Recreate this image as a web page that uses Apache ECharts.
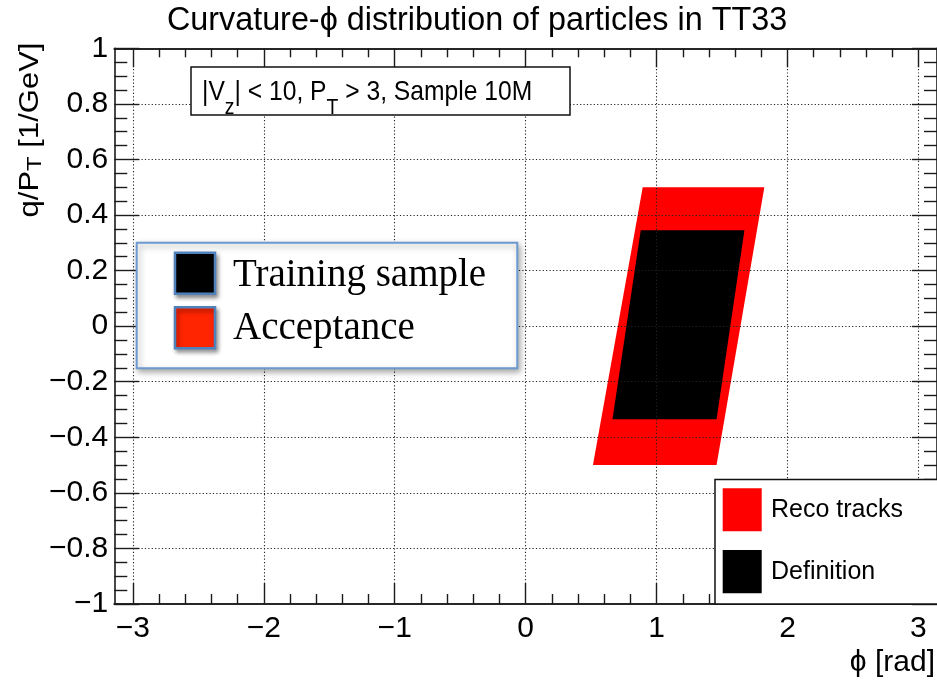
<!DOCTYPE html>
<html>
<head>
<meta charset="utf-8">
<script src="https://cdn.jsdelivr.net/npm/echarts@6/dist/echarts.min.js"></script>
<style>
  html, body { margin: 0; padding: 0; background: #ffffff; }
  #chart { width: 937px; height: 682px; }
</style>
</head>
<body>
<div id="chart"></div>
<script>
// ---- axis definitions ----
const phiRange = [-Math.PI, Math.PI];
const phiTickValues = [-3, -2, -1, 0, 1, 2, 3];
const qOverPtRange = [-1, 1];
const qOverPtStep = 0.2;
const qOverPtGridValues = [-0.8, -0.6, -0.4, -0.2, 0, 0.2, 0.4, 0.6, 0.8];

// ---- regions in the (phi, q/pT) plane, corners clockwise from top-left ----
// Reco tracks (acceptance)
const recoPhi = [0.894, 1.823, 1.458, 0.514];
const recoQoverPt = [0.50, 0.50, -0.50, -0.50];
// Definition (training sample)
const definitionPhi = [0.879, 1.671, 1.458, 0.663];
const definitionQoverPt = [0.345, 0.345, -0.335, -0.335];

// ---- helpers ----
const SANS = "'Liberation Sans', Arial, Helvetica, sans-serif";
const SERIF = "'Liberation Serif', 'Times New Roman', serif";
const INK = '#1a1a1a';

// minor phi ticks every 0.2 between the integer ticks
const phiMinorTicks = [];
for (let k = -16; k <= 16; k++) {
  const v = k / 5;
  if (k % 5 !== 0 && Math.abs(v) < Math.PI) phiMinorTicks.push(v);
}

function signedLabel(v) {
  const s = String(+Math.abs(v).toFixed(2));
  return v < -1e-9 ? '\u2212' + s : s;
}

function phiAxis(position, values, tickLength, withLabels) {
  return {
    type: 'value',
    position: position,
    min: phiRange[0],
    max: phiRange[1],
    axisLine: { show: true, onZero: false, lineStyle: { color: INK, width: 1.6 } },
    axisTick: {
      show: true, inside: true, length: tickLength,
      customValues: values,
      lineStyle: { color: INK, width: 1.4 }
    },
    axisLabel: withLabels ? {
      show: true, customValues: values, formatter: signedLabel,
      fontFamily: SANS, fontSize: 30, color: '#000', margin: 10
    } : { show: false },
    splitLine: { show: false },
    minorTick: { show: false }
  };
}

function qAxis(position, withLabels) {
  return {
    type: 'value',
    position: position,
    min: qOverPtRange[0],
    max: qOverPtRange[1],
    interval: qOverPtStep,
    axisLine: { show: true, onZero: false, lineStyle: { color: INK, width: 1.6 } },
    axisTick: { show: true, inside: true, length: 25, lineStyle: { color: INK, width: 1.4 } },
    minorTick: { show: true, splitNumber: 4, length: 13, lineStyle: { color: INK, width: 1.4 } },
    axisLabel: withLabels ? {
      show: true, formatter: signedLabel,
      fontFamily: SANS, fontSize: 30, color: '#000', margin: 6
    } : { show: false },
    splitLine: { show: false }
  };
}

function regionSeries(name, phi, q, color, z) {
  return {
    type: 'custom',
    name: name,
    xAxisIndex: 0,
    yAxisIndex: 0,
    z: z,
    silent: true,
    animation: false,
    data: phi.map((p, i) => [p, q[i]]),
    renderItem: function (params, api) {
      if (params.dataIndex !== 0) return null;
      const pts = phi.map((p, i) => api.coord([p, q[i]]));
      return { type: 'polygon', shape: { points: pts }, style: { fill: color } };
    }
  };
}

const chart = echarts.init(document.getElementById('chart'), null, { renderer: 'canvas' });

const option = {
  animation: false,
  backgroundColor: '#ffffff',
  grid: { left: 114.3, top: 48.3, width: 825.2, height: 555.7, show: false },
  xAxis: [
    phiAxis('bottom', phiTickValues, 21, true),
    phiAxis('bottom', phiMinorTicks, 10, false),
    phiAxis('top', phiTickValues, 19, false),
    phiAxis('top', phiMinorTicks, 9, false)
  ],
  yAxis: [
    qAxis('left', true),
    qAxis('right', false)
  ],
  series: [
    regionSeries('Reco tracks', recoPhi, recoQoverPt, '#ff0000', 2),
    regionSeries('Definition', definitionPhi, definitionQoverPt, '#000000', 3),
    {
      // dotted grid drawn over the filled regions
      type: 'line',
      name: 'grid',
      data: [],
      z: 5,
      silent: true,
      markLine: {
        silent: true,
        animation: false,
        symbol: ['none', 'none'],
        label: { show: false },
        lineStyle: { type: [1.2, 2.2], color: '#222', width: 1.1 },
        emphasis: { disabled: true },
        data: phiTickValues.map(v => ({ xAxis: v }))
          .concat(qOverPtGridValues.map(v => ({ yAxis: v })))
      }
    }
  ],
  graphic: [
    // title
    {
      type: 'text', x: 477, y: 21, z: 100, scaleX: 0.98,
      style: {
        text: 'Curvature-\u03d5 distribution of particles in TT33',
        font: '33px ' + SANS, fill: '#000', align: 'center', verticalAlign: 'middle'
      }
    },
    // y-axis title
    {
      type: 'text', x: 30, y: 130, rotation: Math.PI / 2, scaleY: 0.88, z: 100,
      style: {
        text: 'q/P{sub|T}{m| [1/GeV]}',
        font: '31px ' + SANS, fill: '#000', align: 'center', verticalAlign: 'middle',
        lineHeight: 36,
        rich: {
          m: { fontFamily: SANS, fontSize: 31, lineHeight: 36 },
          sub: { fontFamily: SANS, fontSize: 24, lineHeight: 24, padding: [12, 0, 0, 0] }
        }
      }
    },
    // x-axis title
    {
      type: 'text', x: 935, y: 663, z: 100,
      style: {
        text: '\u03d5 [rad]',
        font: '30px ' + SANS, fill: '#000', align: 'right', verticalAlign: 'middle'
      }
    },
    // selection box
    {
      type: 'rect', z: 100,
      shape: { x: 191, y: 67, width: 379, height: 48 },
      style: { fill: '#ffffff', stroke: '#111', lineWidth: 1.5 }
    },
    {
      type: 'text', x: 202, y: 92, z: 101, scaleX: 0.88,
      style: {
        text: '|V{sub|z}{m|| < 10, P}{sub|T}{m| > 3, Sample 10M}',
        font: '28px ' + SANS, fill: '#000', align: 'left', verticalAlign: 'middle',
        lineHeight: 56,
        rich: {
          m: { fontFamily: SANS, fontSize: 28, lineHeight: 56 },
          sub: { fontFamily: SANS, fontSize: 22, lineHeight: 22, padding: [32, 0, 0, 0] }
        }
      }
    },
    // training / acceptance key
    {
      type: 'rect', z: 100,
      shape: { x: 136.7, y: 242.7, width: 380.6, height: 125.6 },
      style: {
        fill: '#ffffff', stroke: '#6b99d0', lineWidth: 2,
        shadowBlur: 6, shadowOffsetX: 2, shadowOffsetY: 3, shadowColor: 'rgba(0,0,0,0.35)'
      }
    },
    {
      type: 'rect', z: 101,
      shape: { x: 175, y: 252.7, width: 40, height: 41 },
      style: {
        fill: '#000000', stroke: '#4f81bd', lineWidth: 2.5,
        shadowBlur: 4, shadowOffsetX: 2, shadowOffsetY: 3, shadowColor: 'rgba(0,0,0,0.4)'
      }
    },
    {
      type: 'rect', z: 101,
      shape: { x: 175, y: 307.3, width: 40, height: 41 },
      style: {
        fill: '#ff2500', stroke: '#4f81bd', lineWidth: 2.5,
        shadowBlur: 4, shadowOffsetX: 2, shadowOffsetY: 3, shadowColor: 'rgba(0,0,0,0.4)'
      }
    },
    {
      type: 'text', x: 233, y: 276, z: 102,
      style: { text: 'Training sample', font: '39px ' + SERIF, fill: '#000', verticalAlign: 'middle' }
    },
    {
      type: 'text', x: 233, y: 328.5, z: 102,
      style: { text: 'Acceptance', font: '39px ' + SERIF, fill: '#000', verticalAlign: 'middle' }
    },
    // histogram key
    {
      type: 'rect', z: 100,
      shape: { x: 715, y: 479.5, width: 260, height: 124.5 },
      style: { fill: '#ffffff', stroke: '#111', lineWidth: 1.5 }
    },
    {
      type: 'rect', z: 101,
      shape: { x: 722.7, y: 488.3, width: 39, height: 43 },
      style: { fill: '#ff0000' }
    },
    {
      type: 'rect', z: 101,
      shape: { x: 722.7, y: 550, width: 39, height: 43.3 },
      style: { fill: '#000000' }
    },
    {
      type: 'text', x: 771, y: 510.5, z: 102,
      style: { text: 'Reco tracks', font: '25px ' + SANS, fill: '#000', verticalAlign: 'middle' }
    },
    {
      type: 'text', x: 771, y: 572.5, z: 102,
      style: { text: 'Definition', font: '25px ' + SANS, fill: '#000', verticalAlign: 'middle' }
    }
  ]
};

chart.setOption(option);
</script>
</body>
</html>
